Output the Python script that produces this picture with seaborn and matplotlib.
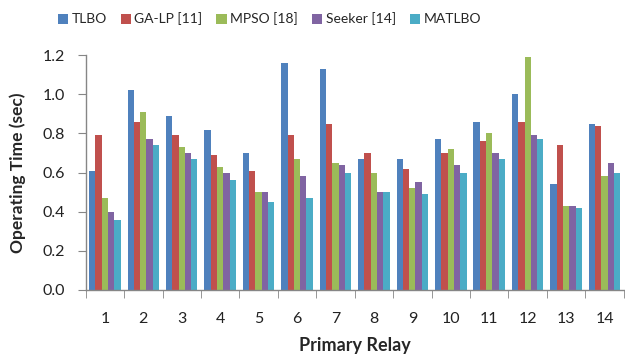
import matplotlib
matplotlib.use("Agg")
import matplotlib.pyplot as plt
from matplotlib.ticker import FixedLocator, NullFormatter, FormatStrFormatter
import seaborn as sns
import pandas as pd

relays = [str(i) for i in range(1, 15)]
methods = ["TLBO", "GA-LP [11]", "MPSO [18]", "Seeker [14]", "MATLBO"]

tlbo   = [0.61, 1.02, 0.89, 0.82, 0.70, 1.16, 1.13, 0.67, 0.67, 0.77, 0.86, 1.00, 0.54, 0.85]
ga_lp  = [0.79, 0.86, 0.79, 0.69, 0.61, 0.79, 0.85, 0.70, 0.62, 0.70, 0.76, 0.86, 0.74, 0.84]
mpso   = [0.47, 0.91, 0.73, 0.63, 0.50, 0.67, 0.65, 0.60, 0.52, 0.72, 0.80, 1.19, 0.43, 0.58]
seeker = [0.40, 0.77, 0.70, 0.60, 0.50, 0.58, 0.64, 0.50, 0.55, 0.64, 0.70, 0.79, 0.43, 0.65]
matlbo = [0.36, 0.74, 0.67, 0.56, 0.45, 0.47, 0.60, 0.50, 0.49, 0.60, 0.67, 0.77, 0.42, 0.60]

colors = ["#4F81BD", "#C0504D", "#9BBB59", "#8064A2", "#4BACC6"]

series = [tlbo, ga_lp, mpso, seeker, matlbo]
df = pd.DataFrame({
    "Primary Relay": relays * len(methods),
    "Method": [m for m in methods for _ in relays],
    "Operating Time (sec)": [v for s in series for v in s],
})

sns.set_style("white")
plt.rcParams["font.family"] = ["Lato", "DejaVu Sans"]

fig = plt.figure(figsize=(6.25, 3.58), dpi=100)
ax = fig.add_axes([0.137, 0.19, 0.861, 0.656])

sns.barplot(data=df, x="Primary Relay", y="Operating Time (sec)", hue="Method",
            hue_order=methods, palette=colors, width=0.82, saturation=1,
            edgecolor="none", ax=ax, legend=True)

ax.set_ylim(0, 1.2)
ax.set_xlim(-0.5, len(relays) - 0.5)
ax.set_yticks([0.0, 0.2, 0.4, 0.6, 0.8, 1.0, 1.2])
ax.yaxis.set_major_formatter(FormatStrFormatter("%.1f"))

for s in ["top", "right"]:
    ax.spines[s].set_visible(False)
for s in ["left", "bottom"]:
    ax.spines[s].set_color("#868686")
    ax.spines[s].set_linewidth(1.0)

ax.tick_params(axis="y", which="major", direction="out", length=6, color="#868686",
               labelsize=11.5, left=True, pad=9, labelcolor="#222222")
ax.tick_params(axis="x", which="major", length=0, labelsize=11.5, pad=16,
               labelcolor="#222222")
ax.xaxis.set_minor_locator(FixedLocator([i - 0.5 for i in range(len(relays) + 1)]))
ax.xaxis.set_minor_formatter(NullFormatter())
ax.tick_params(axis="x", which="minor", direction="out", length=6, color="#868686",
               bottom=True)

ax.set_xlabel("Primary Relay", fontsize=13, fontweight="bold", labelpad=8)
ax.set_ylabel("Operating Time (sec)", fontsize=12.5, fontweight="bold", labelpad=12)

handles, labels = ax.get_legend_handles_labels()
ax.legend(handles, labels, loc="center left", bbox_to_anchor=(0.092, 1 - 19 / 358),
          bbox_transform=fig.transFigure, ncol=5, frameon=False, fontsize=10,
          handlelength=0.75, handleheight=0.75, handletextpad=0.25, columnspacing=1.0,
          borderpad=0, borderaxespad=0)

fig.savefig("out.png", dpi=100)
